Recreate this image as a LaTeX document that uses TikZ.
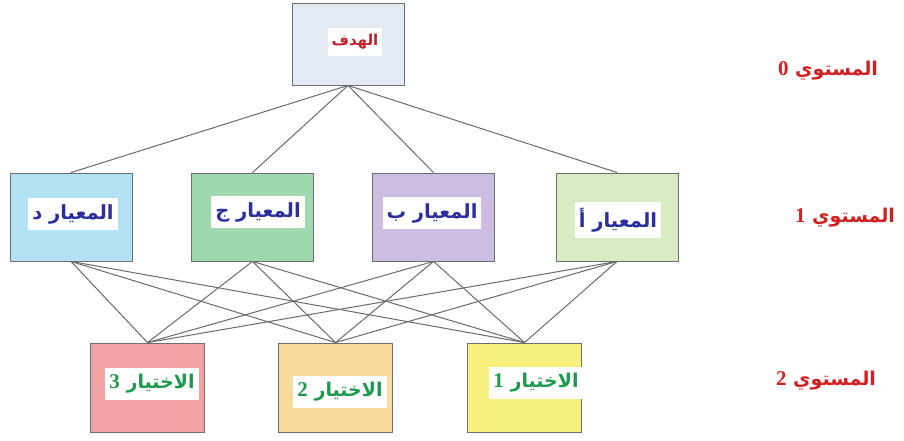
\documentclass[tikz,border=0pt]{standalone}
\usepackage{fontspec}
\TeXXeTstate=1
\newfontfamily\arabicfont[Script=Arabic]{DejaVu Sans}
\newfontfamily\digitfont{Liberation Serif}
\newcommand{\dig}[1]{{\digitfont\bfseries\fontsize{21}{22}\selectfont #1}}
\definecolor{boxborder}{HTML}{6E6E6E}
\definecolor{edgegray}{HTML}{6A6A6A}
\definecolor{goalfill}{HTML}{E4EAF4}
\definecolor{dfill}{HTML}{B3E1F3}
\definecolor{cfill}{HTML}{9ED9AE}
\definecolor{bfill}{HTML}{CDBDE2}
\definecolor{afill}{HTML}{D9EBC3}
\definecolor{o3fill}{HTML}{F3A3A3}
\definecolor{o2fill}{HTML}{F8DC9E}
\definecolor{o1fill}{HTML}{F7F07C}
\definecolor{goaltext}{HTML}{C3202C}
\definecolor{crittext}{HTML}{2B2F9E}
\definecolor{opttext}{HTML}{1E9A4C}
\definecolor{leveltext}{HTML}{D21F1F}
\tikzset{
  box/.style={draw=boxborder, line width=0.9pt, inner sep=0pt},
  goalbox/.style={box, minimum width=112pt, minimum height=82pt},
  critbox/.style={box, minimum width=122pt, minimum height=88pt},
  optbox/.style={box, minimum width=114pt, minimum height=89pt},
  patch/.style={fill=white, inner xsep=4pt, inner ysep=6pt},
  goallabel/.style={patch, text=goaltext, font=\arabicfont\bfseries\fontsize{15}{17}\selectfont},
  critlabel/.style={patch, text=crittext, font=\arabicfont\bfseries\fontsize{19.5}{22}\selectfont},
  optlabel/.style={patch, text=opttext, font=\arabicfont\bfseries\fontsize{19}{22}\selectfont},
  levellabel/.style={inner sep=0pt, text=leveltext, font=\arabicfont\bfseries\fontsize{19}{22}\selectfont},
  edge/.style={draw=edgegray, line width=1pt}
}
\begin{document}
\begin{tikzpicture}[x=1pt, y=-1pt]
\useasboundingbox (0,0) rectangle (904,441);
% boxes
\node[goalbox, fill=goalfill] (goal) at (348,44) {};
\node[critbox, fill=dfill] (cd) at (71,217) {};
\node[critbox, fill=cfill] (cc) at (252.5,217) {};
\node[critbox, fill=bfill] (cb) at (433.5,217) {};
\node[critbox, fill=afill] (ca) at (617,217) {};
\node[optbox, fill=o3fill] (o3) at (147.5,387.5) {};
\node[optbox, fill=o2fill] (o2) at (335.5,387.5) {};
\node[optbox, fill=o1fill] (o1) at (524.5,387.5) {};
% connectors
\foreach \c in {cd,cc,cb,ca} {\draw[edge] (goal.south) -- (\c.north);}
\foreach \c in {cd,cc,cb,ca} {\foreach \o in {o3,o2,o1} {\draw[edge] (\c.south) -- (\o.north);}}
% labels
\node[goallabel] (goaltxt) at (355,42) {\beginR الهدف\endR};
\node[critlabel] (cdtxt) at (73,214) {\beginR المعيار د\endR};
\node[critlabel] (cctxt) at (258,212) {\beginR المعيار ج\endR};
\node[critlabel] (cbtxt) at (432,213) {\beginR المعيار ب\endR};
\node[critlabel] (catxt) at (618,220) {\beginR المعيار أ\endR};
\node[optlabel] (o3txt) at (152,384) {\beginR الاختيار \dig{3}\endR};
\node[optlabel] (o2txt) at (340,392) {\beginR الاختيار \dig{2}\endR};
\node[optlabel] (o1txt) at (536,383) {\beginR الاختيار \dig{1}\endR};
\node[levellabel] (lv0) at (828,71) {\beginR المستوي \dig{0}\endR};
\node[levellabel] (lv1) at (845,218) {\beginR المستوي \dig{1}\endR};
\node[levellabel] (lv2) at (826,381) {\beginR المستوي \dig{2}\endR};
\end{tikzpicture}
\end{document}
